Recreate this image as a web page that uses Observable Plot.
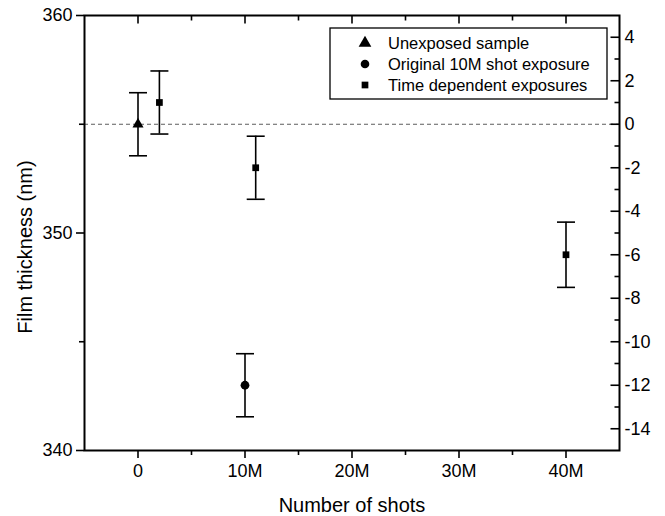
<!DOCTYPE html>
<html><head><meta charset="utf-8">
<script src="https://cdn.jsdelivr.net/npm/d3@7"></script>
<script src="https://cdn.jsdelivr.net/npm/@observablehq/plot@0.6"></script>
<style>
html,body{margin:0;padding:0;background:#fff;}
#chart{position:relative;width:665px;height:516px;}
</style></head><body><div id="chart"></div>
<script>
// ---- data ----
const seriesNames = ["Unexposed sample", "Original 10M shot exposure", "Time dependent exposures"];
const seriesSymbols = ["triangle", "circle", "square"];
const pointSeries = ["Unexposed sample", "Time dependent exposures", "Time dependent exposures", "Original 10M shot exposure", "Time dependent exposures"];
const pointShots = [0, 2e6, 11e6, 10e6, 40e6];
const pointThickness = [355, 356, 353, 343, 349];
const pointError = [1.45, 1.45, 1.45, 1.45, 1.5];
const xMajorTicks = [0, 1e7, 2e7, 3e7, 4e7];
const xTickLabels = ["0", "10M", "20M", "30M", "40M"];
const xMinorTicks = [5e6, 1.5e7, 2.5e7, 3.5e7];
const yMajorTicks = [340, 350, 360];
const yMinorTicks = [345, 355];
const rightTickLabels = [4, 2, 0, -2, -4, -6, -8, -10, -12, -14];
const rightMinorLabels = [3, 1, -1, -3, -5, -7, -9, -11, -13];
const rightOffset = 355; // right axis = thickness - 355 nm
const referenceLevel = [355];

const data = pointShots.map((x, i) => ({x, y: pointThickness[i], e: pointError[i], s: pointSeries[i]}));
const font = "'Liberation Sans', Arial, Helvetica, sans-serif";
const capSymbol = {draw(ctx) { ctx.moveTo(-9, 0); ctx.lineTo(9, 0); }};
const tickDown = len => ({draw(ctx) { ctx.moveTo(0, 0); ctx.lineTo(0, len); }});
const tickLeft = len => ({draw(ctx) { ctx.moveTo(0, 0); ctx.lineTo(-len, 0); }});
const rightMajor = rightTickLabels.map(v => v + rightOffset);
const rightMinor = rightMinorLabels.map(v => v + rightOffset);
const symSize = {triangle: 4.1, circle: 4.4, square: 3.8};

const seriesMarks = seriesNames.map((name, k) =>
  Plot.dot(data.filter(d => d.s === name), {x: "x", y: "y", symbol: seriesSymbols[k], r: symSize[seriesSymbols[k]], fill: "black", stroke: "none"}));

const plot = Plot.plot({
  width: 665, height: 516,
  marginLeft: 84, marginRight: 46, marginTop: 15, marginBottom: 66,
  style: {fontFamily: font, color: "black", background: "white", overflow: "visible"},
  x: {domain: [-5e6, 45e6]},
  y: {domain: [340, 360]},
  marks: [
    Plot.ruleY(referenceLevel, {stroke: "#333", strokeWidth: 0.8, strokeDasharray: "4,3"}),
    Plot.axisX({anchor: "bottom", ticks: xMajorTicks, tickFormat: d => xTickLabels[xMajorTicks.indexOf(d)], tickSize: 8, tickPadding: 6, fontSize: 18, strokeWidth: 1.6, label: null}),
    Plot.axisX({anchor: "bottom", ticks: xMinorTicks, tickFormat: () => "", tickSize: 5, strokeWidth: 1.6, label: null}),
    Plot.dot(xMajorTicks, {x: d => d, frameAnchor: "top", symbol: tickDown(8), r: 1, stroke: "black", fill: "none", strokeWidth: 1.6}),
    Plot.dot(xMinorTicks, {x: d => d, frameAnchor: "top", symbol: tickDown(5), r: 1, stroke: "black", fill: "none", strokeWidth: 1.6}),
    Plot.axisY({anchor: "left", ticks: yMajorTicks, tickFormat: d => String(d), tickSize: 8, tickPadding: 4, fontSize: 18, strokeWidth: 1.6, label: null}),
    Plot.axisY({anchor: "left", ticks: yMinorTicks, tickFormat: () => "", tickSize: 5, strokeWidth: 1.6, label: null}),
    Plot.axisY({anchor: "right", ticks: rightMajor, tickFormat: d => String(Math.round(d - rightOffset)), tickSize: 0, tickPadding: 5, fontSize: 18, label: null}),
    Plot.dot(rightMajor, {y: d => d, frameAnchor: "right", symbol: tickLeft(9), r: 1, stroke: "black", fill: "none", strokeWidth: 1.6}),
    Plot.dot(rightMinor, {y: d => d, frameAnchor: "right", symbol: tickLeft(5), r: 1, stroke: "black", fill: "none", strokeWidth: 1.6}),
    Plot.frame({stroke: "black", strokeWidth: 2}),
    Plot.ruleX(data, {x: "x", y1: d => d.y - d.e, y2: d => d.y + d.e, strokeWidth: 1.6}),
    Plot.dot(data, {x: "x", y: d => d.y + d.e, symbol: capSymbol, r: 1, stroke: "black", strokeWidth: 1.6, fill: "none"}),
    Plot.dot(data, {x: "x", y: d => d.y - d.e, symbol: capSymbol, r: 1, stroke: "black", strokeWidth: 1.6, fill: "none"}),
    ...seriesMarks,
    Plot.text(["Number of shots"], {text: d => d, frameAnchor: "bottom", textAnchor: "middle", dy: 61, lineAnchor: "bottom", fontSize: 20, fill: "black"}),
    Plot.text(["Film thickness (nm)"], {text: d => d, frameAnchor: "left", textAnchor: "middle", rotate: -90, dx: -59, dy: 14, fontSize: 20, fill: "black"})
  ]
});
document.getElementById("chart").appendChild(plot);

// legend inside the plot
const svg = d3.select(plot);
const lg = svg.append("g").attr("class", "legend").attr("text-anchor", "start");
lg.append("rect").attr("x", 330).attr("y", 28).attr("width", 277).attr("height", 71)
  .attr("fill", "white").attr("stroke", "black").attr("stroke-width", 1.3);
const legendSymbolType = {triangle: d3.symbolTriangle, circle: d3.symbolCircle, square: d3.symbolSquare};
const legendSymbolArea = {triangle: 70, circle: 58, square: 45};
seriesNames.forEach((name, k) => {
  const y = 43 + k * 21;
  lg.append("path").attr("transform", `translate(365,${y})`)
    .attr("d", d3.symbol(legendSymbolType[seriesSymbols[k]], legendSymbolArea[seriesSymbols[k]])())
    .attr("fill", "black");
  lg.append("text").attr("x", 388).attr("y", y).attr("dy", "0.35em").attr("text-anchor", "start")
    .attr("font-size", 16.5).attr("font-family", font).attr("fill", "black").text(name);
});
</script></body></html>
